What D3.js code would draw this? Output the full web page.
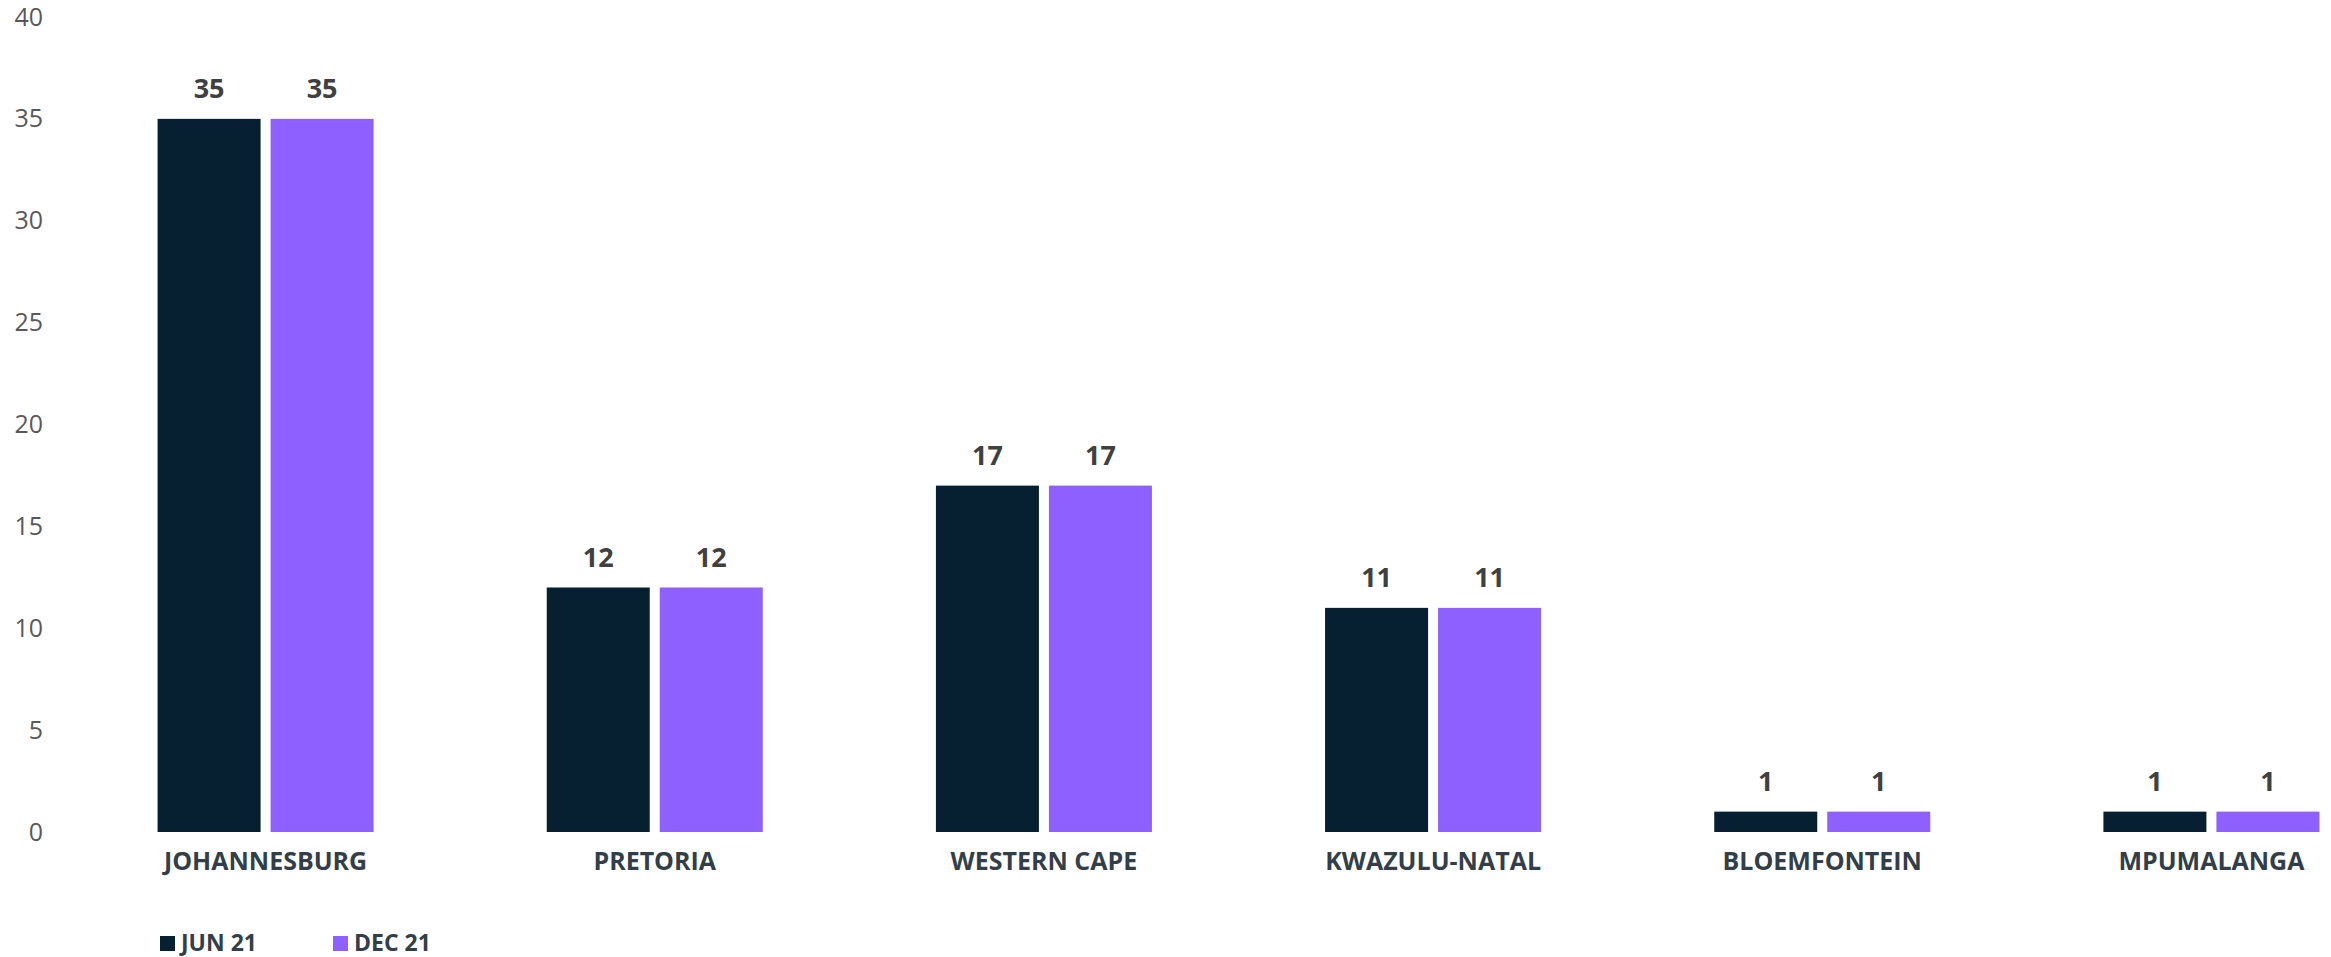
<!DOCTYPE html>
<html>
<head>
<meta charset="utf-8">
<script src="https://cdn.jsdelivr.net/npm/d3@7"></script>
<style>
  body { margin: 0; background: #fff; }
  text { font-family: "Open Sans", sans-serif; }
</style>
</head>
<body>
<div id="chart"></div>
<script>
// data
var regions = ["JOHANNESBURG", "PRETORIA", "WESTERN CAPE", "KWAZULU-NATAL", "BLOEMFONTEIN", "MPUMALANGA"];
var series = ["JUN 21", "DEC 21"];
var jun21 = [35, 12, 17, 11, 1, 1];
var dec21 = [35, 12, 17, 11, 1, 1];
var yTicks = [0, 5, 10, 15, 20, 25, 30, 35, 40];
var colors = ["#061f31", "#8e60ff"];

var width = 2331, height = 957;

var svg = d3.select("#chart")
  .append("svg")
  .attr("width", width)
  .attr("height", height);

var rows = regions.map(function(r, i) {
  return {region: r, values: [jun21[i], dec21[i]]};
});

// the last group runs off the right edge in the original, so the band range is wider than the page
var x0 = d3.scaleBand()
  .domain(regions)
  .range([71, 2406])
  .padding(0);

var x1 = d3.scaleBand()
  .domain(series)
  .range([0, 216])
  .paddingInner(0.0885);

var y = d3.scaleLinear()
  .domain([0, 40])
  .range([832, 17]);

// y axis, labels only
var yAxis = d3.axisLeft(y).tickValues(yTicks).tickSize(0).tickPadding(0);
var gY = svg.append("g")
  .attr("transform", "translate(43,0)")
  .call(yAxis);
gY.select(".domain").remove();
gY.selectAll("text")
  .attr("font-family", "Open Sans, sans-serif")
  .attr("font-size", "25px")
  .attr("fill", "#595959");

var groups = svg.selectAll(".grp")
  .data(rows)
  .enter().append("g")
  .attr("class", "grp")
  .attr("transform", function(d) {
    return "translate(" + (x0(d.region) + x0.bandwidth() / 2 - 108) + ",0)";
  });

groups.selectAll("rect")
  .data(function(d) { return d.values.map(function(v, i) { return {s: series[i], v: v, i: i}; }); })
  .enter().append("rect")
  .attr("x", function(d) { return x1(d.s); })
  .attr("y", function(d) { return y(d.v); })
  .attr("width", x1.bandwidth())
  .attr("height", function(d) { return y(0) - y(d.v); })
  .attr("fill", function(d) { return colors[d.i]; });

groups.selectAll(".val")
  .data(function(d) { return d.values.map(function(v, i) { return {s: series[i], v: v}; }); })
  .enter().append("text")
  .attr("class", "val")
  .attr("x", function(d) { return x1(d.s) + x1.bandwidth() / 2; })
  .attr("y", function(d) { return y(d.v) - 21; })
  .attr("text-anchor", "middle")
  .attr("font-size", "27px")
  .attr("font-weight", "bold")
  .attr("fill", "#404040")
  .text(function(d) { return d.v; });

// category labels
svg.selectAll(".cat")
  .data(regions)
  .enter().append("text")
  .attr("class", "cat")
  .attr("x", function(d) { return x0(d) + x0.bandwidth() / 2; })
  .attr("y", 870)
  .attr("text-anchor", "middle")
  .attr("font-size", "25px")
  .attr("font-weight", "bold")
  .attr("fill", "#333f48")
  .text(function(d) { return d; });

// legend
var legendX = [160, 333];
var legend = svg.selectAll(".leg")
  .data(series)
  .enter().append("g")
  .attr("class", "leg")
  .attr("transform", function(d, i) { return "translate(" + legendX[i] + ",936)"; });

legend.append("rect")
  .attr("width", 15)
  .attr("height", 15)
  .attr("fill", function(d, i) { return colors[i]; });

legend.append("text")
  .attr("x", 21)
  .attr("y", 15)
  .attr("font-size", "23px")
  .attr("font-weight", "bold")
  .attr("fill", "#333f48")
  .text(function(d) { return d; });
</script>
</body>
</html>
